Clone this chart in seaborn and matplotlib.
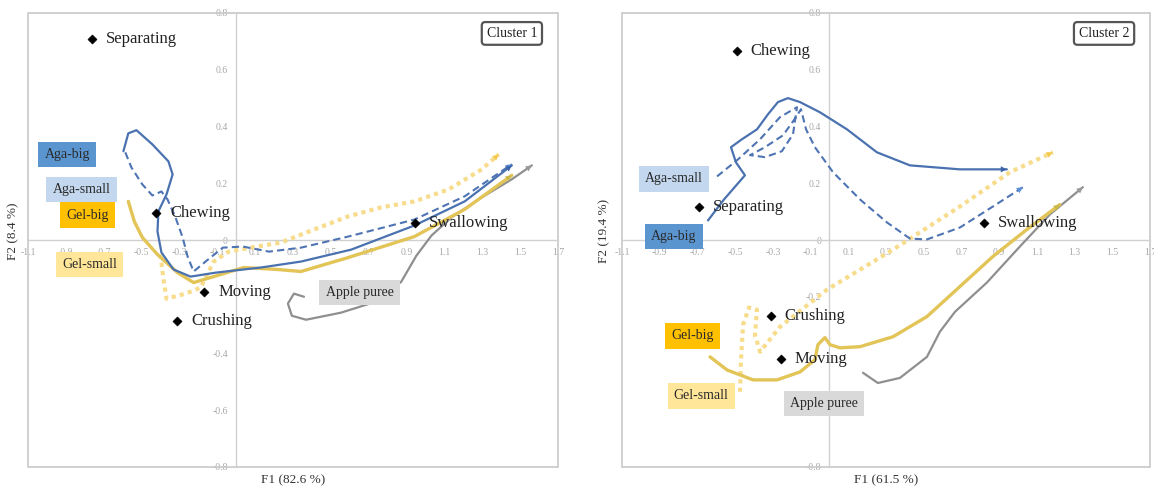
"""Sensory trajectories on the PCA map, two consumer clusters."""
import matplotlib.pyplot as plt
import seaborn as sns
from matplotlib.patches import Rectangle

# ---- Cluster 1: attribute positions (black diamonds)
c1_attr_names = ["Separating", "Chewing", "Moving", "Crushing", "Swallowing"]
c1_attr_f1 = [-0.762, -0.423, -0.169, -0.312, 0.942]
c1_attr_f2 = [0.708, 0.095, -0.183, -0.285, 0.060]

# ---- Cluster 1: product trajectories
c1_aga_big_f1 = [-0.596, -0.570, -0.527, -0.443, -0.358, -0.336, -0.368, -0.411, -0.416,
                 -0.395, -0.331, -0.241, -0.108, 0.130, 0.342, 0.607, 0.941, 1.207, 1.456]
c1_aga_big_f2 = [0.313, 0.376, 0.387, 0.337, 0.277, 0.231, 0.161, 0.101, 0.030,
                 -0.044, -0.104, -0.129, -0.115, -0.097, -0.076, -0.034, 0.051, 0.136, 0.263]
c1_aga_small_f1 = [-0.586, -0.554, -0.496, -0.443, -0.395, -0.363, -0.321, -0.283, -0.257,
                   -0.225, -0.162, -0.071, 0.035, 0.173, 0.342, 0.591, 0.941, 1.207, 1.456]
c1_aga_small_f2 = [0.309, 0.256, 0.196, 0.157, 0.171, 0.143, 0.080, 0.009, -0.058,
                   -0.111, -0.076, -0.027, -0.023, -0.041, -0.027, 0.012, 0.072, 0.154, 0.267]
c1_gel_big_f1 = [-0.570, -0.538, -0.496, -0.416, -0.310, -0.225, -0.119, 0.040, 0.220,
                 0.342, 0.591, 0.941, 1.207, 1.456]
c1_gel_big_f2 = [0.136, 0.065, 0.009, -0.051, -0.115, -0.150, -0.129, -0.097, -0.104,
                 -0.111, -0.062, 0.012, 0.108, 0.228]
c1_gel_small_f1 = [-0.400, -0.384, -0.368, -0.268, -0.188, -0.119, -0.040, 0.077, 0.236,
                   0.411, 0.591, 0.766, 0.941, 1.122, 1.297, 1.387]
c1_gel_small_f2 = [-0.051, -0.140, -0.207, -0.189, -0.168, -0.076, -0.041, -0.027, -0.009,
                   0.037, 0.083, 0.115, 0.136, 0.178, 0.249, 0.302]
c1_apple_f1 = [0.358, 0.305, 0.273, 0.294, 0.369, 0.554, 0.740, 0.872, 0.952, 1.032,
               1.138, 1.297, 1.456, 1.562]
c1_apple_f2 = [-0.200, -0.189, -0.224, -0.267, -0.281, -0.256, -0.217, -0.147, -0.055, 0.016,
               0.080, 0.150, 0.214, 0.263]

# ---- Cluster 2: attribute positions
c2_attr_names = ["Chewing", "Separating", "Crushing", "Moving", "Swallowing"]
c2_attr_f1 = [-0.492, -0.693, -0.312, -0.259, 0.820]
c2_attr_f2 = [0.665, 0.116, -0.268, -0.419, 0.060]

# ---- Cluster 2: product trajectories
c2_aga_big_f1 = [-0.644, -0.559, -0.448, -0.496, -0.522, -0.464, -0.384, -0.326, -0.273,
                 -0.220, -0.156, -0.050, 0.093, 0.252, 0.427, 0.692, 0.941]
c2_aga_big_f2 = [0.069, 0.143, 0.228, 0.274, 0.327, 0.355, 0.390, 0.443, 0.486,
                 0.500, 0.486, 0.450, 0.390, 0.309, 0.263, 0.249, 0.249]
c2_aga_small_f1 = [-0.596, -0.485, -0.368, -0.262, -0.172, -0.193, -0.252, -0.342, -0.421,
                   -0.342, -0.246, -0.177, -0.151, -0.124, -0.077, 0.019, 0.162, 0.305,
                   0.427, 0.517, 0.692, 0.867, 1.026]
c2_aga_small_f2 = [0.224, 0.284, 0.355, 0.433, 0.468, 0.373, 0.313, 0.292, 0.299,
                   0.327, 0.369, 0.433, 0.461, 0.390, 0.327, 0.239, 0.143, 0.062,
                   0.005, 0.002, 0.044, 0.118, 0.186]
c2_gel_big_f1 = [-0.633, -0.543, -0.405, -0.278, -0.156, -0.077, -0.061, -0.024, 0.003,
                 0.056, 0.162, 0.337, 0.517, 0.692, 0.867, 1.047, 1.222]
c2_gel_big_f2 = [-0.412, -0.458, -0.493, -0.493, -0.465, -0.422, -0.369, -0.344, -0.369,
                 -0.380, -0.376, -0.341, -0.270, -0.164, -0.058, 0.037, 0.125]
c2_gel_small_f1 = [-0.474, -0.469, -0.458, -0.427, -0.384, -0.395, -0.368, -0.326, -0.262,
                   -0.013, 0.337, 0.692, 0.957, 1.185]
c2_gel_small_f2 = [-0.535, -0.422, -0.299, -0.238, -0.246, -0.334, -0.394, -0.359, -0.306,
                   -0.175, -0.034, 0.118, 0.239, 0.309]
c2_apple_f1 = [0.178, 0.257, 0.374, 0.517, 0.586, 0.666, 0.835, 1.010, 1.169, 1.344]
c2_apple_f2 = [-0.468, -0.504, -0.486, -0.412, -0.323, -0.253, -0.150, -0.023, 0.090, 0.186]

x_ticks = [-1.1, -0.9, -0.7, -0.5, -0.3, -0.1, 0.1, 0.3, 0.5, 0.7, 0.9, 1.1, 1.3, 1.5, 1.7]
y_ticks = [-0.8, -0.6, -0.4, -0.2, 0, 0.2, 0.4, 0.6, 0.8]
# y labels that sit under other text in the reference and are not seen there
c1_hidden_y = [-0.2]
c2_hidden_y = [-0.4, -0.6]

# line look for each product
styles = {
    "Aga-big": dict(color="#4a72b0", ls="-", lw=1.6, head="#3d64a8", box="#5b95d0"),
    "Aga-small": dict(color="#4f74b3", ls=(0, (3.5, 2)), lw=1.5, head="#5b8fd6", box="#c3d7ee"),
    "Gel-big": dict(color="#e2c457", ls="-", lw=2.4, head="#c9b84a", box="#ffc000"),
    "Gel-small": dict(color="#f7dc8c", ls=(0, (1, 1)), lw=3.0, head="#f2c94a", box="#ffe699"),
    "Apple puree": dict(color="#8f8f8f", ls="-", lw=1.6, head="#9a9a9a", box="#d9d9d9"),
}

sns.set_style("white")
plt.rcParams["font.family"] = ["Liberation Serif", "DejaVu Serif"]

fig = plt.figure(figsize=(11.54, 4.93), dpi=100)
ax1 = fig.add_axes([28 / 1154, 26 / 493, 530 / 1154, 454 / 493])
ax2 = fig.add_axes([622 / 1154, 26 / 493, 528 / 1154, 454 / 493])


def draw_panel(ax, attrs, trajs, boxes, cluster, f1_title, f2_title, ylab_x, hidden_y):
    ax.set_xlim(-1.1, 1.7)
    ax.set_ylim(-0.8, 0.8)
    for s in ["top", "right"]:
        ax.spines[s].set_visible(False)
    for s in ["left", "bottom"]:
        ax.spines[s].set_position("zero")
        ax.spines[s].set_color("#d0d0d0")
        ax.spines[s].set_linewidth(1.0)
    ax.add_patch(Rectangle((0, 0), 1, 1, transform=ax.transAxes, fill=False,
                           ec="#c8c8c8", lw=1.2, clip_on=False))
    ax.set_xticks(x_ticks)
    ax.set_xticklabels([f"{t:g}" for t in x_ticks])
    ax.set_yticks(y_ticks)
    ax.set_yticklabels(["" if t in hidden_y else f"{t:g}" for t in y_ticks])
    ax.tick_params(length=0, labelsize=7, labelcolor="#a8a8a8", pad=6)

    for name, f1, f2 in trajs:
        st = styles[name]
        sns.lineplot(x=f1, y=f2, sort=False, estimator=None, ax=ax, color=st["color"],
                     linestyle=st["ls"], linewidth=st["lw"], zorder=3)
        ax.annotate("", xy=(f1[-1], f2[-1]), xytext=(f1[-2], f2[-2]), zorder=4,
                    arrowprops=dict(arrowstyle="-|>", color=st["head"], lw=0,
                                    mutation_scale=11, shrinkA=0, shrinkB=0))

    names, a1, a2 = attrs
    sns.scatterplot(x=a1, y=a2, ax=ax, marker="D", color="black", s=22, zorder=5,
                    edgecolor="black")
    for n, x, y in zip(names, a1, a2):
        ax.annotate(n, (x, y), xytext=(10, 0), textcoords="offset points", va="center",
                    ha="left", fontsize=12, color="#222222", zorder=6)

    for name, (bx, by) in boxes.items():
        ax.text(bx, by, name, ha="center", va="center", fontsize=10, color="#2a2a2a", zorder=6,
                bbox=dict(boxstyle="square,pad=0.45", fc=styles[name]["box"], ec="none"))

    ax.text(0.913, 0.955, cluster, transform=ax.transAxes, ha="center", va="center",
            fontsize=10, color="#222222", zorder=6,
            bbox=dict(boxstyle="round,pad=0.35,rounding_size=0.25", fc="white",
                      ec="#555555", lw=1.6))
    ax.text(0.5, -0.03, f1_title, transform=ax.transAxes, ha="center", va="center",
            fontsize=9.5, color="#333333")
    ax.text(ylab_x, 0.52, f2_title, transform=ax.transAxes, ha="center", va="center",
            rotation=90, fontsize=9.5, color="#333333")
    ax.set_xlabel("")
    ax.set_ylabel("")


draw_panel(
    ax1,
    (c1_attr_names, c1_attr_f1, c1_attr_f2),
    [("Apple puree", c1_apple_f1, c1_apple_f2),
     ("Gel-small", c1_gel_small_f1, c1_gel_small_f2),
     ("Gel-big", c1_gel_big_f1, c1_gel_big_f2),
     ("Aga-small", c1_aga_small_f1, c1_aga_small_f2),
     ("Aga-big", c1_aga_big_f1, c1_aga_big_f2)],
    {"Aga-big": (-0.892, 0.301), "Aga-small": (-0.817, 0.178), "Gel-big": (-0.785, 0.088),
     "Gel-small": (-0.775, -0.086), "Apple puree": (0.651, -0.185)},
    "Cluster 1", "F1 (82.6 %)", "F2 (8.4 %)", -0.027, c1_hidden_y)

draw_panel(
    ax2,
    (c2_attr_names, c2_attr_f1, c2_attr_f2),
    [("Apple puree", c2_apple_f1, c2_apple_f2),
     ("Gel-small", c2_gel_small_f1, c2_gel_small_f2),
     ("Gel-big", c2_gel_big_f1, c2_gel_big_f2),
     ("Aga-small", c2_aga_small_f1, c2_aga_small_f2),
     ("Aga-big", c2_aga_big_f1, c2_aga_big_f2)],
    {"Aga-small": (-0.823, 0.215), "Aga-big": (-0.825, 0.012), "Gel-big": (-0.725, -0.338),
     "Gel-small": (-0.680, -0.549), "Apple puree": (-0.029, -0.577)},
    "Cluster 2", "F1 (61.5 %)", "F2 (19.4 %)", -0.034, c2_hidden_y)

fig.savefig("out.png", dpi=100, facecolor="white")
